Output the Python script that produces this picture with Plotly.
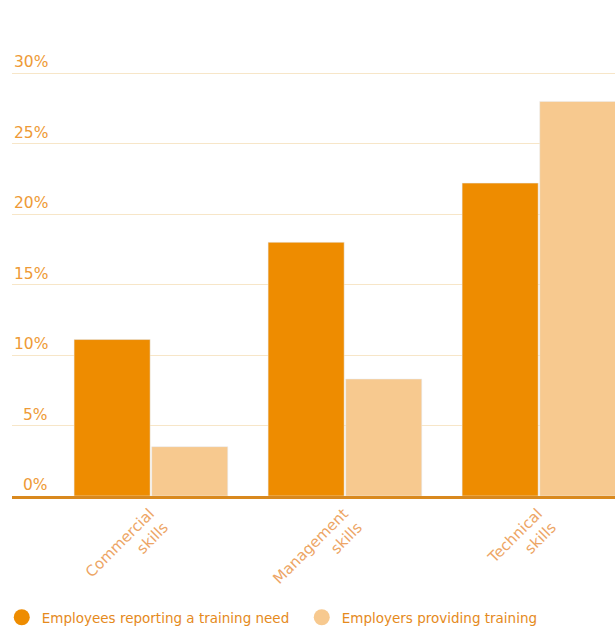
import plotly.graph_objects as go

# Skill categories and the two series (percent)
categories = ["Commercial<br>skills", "Management<br>skills", "Technical<br>skills"]
training_need = [11.1, 18.0, 22.2]
training_provided = [3.5, 8.3, 28.0]
series_names = ["Employees reporting a training need", "Employers providing training"]
y_ticks = [0, 5, 10, 15, 20, 25, 30]
y_tick_text = [f"{v}%" for v in y_ticks]

DARK = "#EE8C00"
LIGHT = "#F7C98F"
TEXT = "#EE9A36"
FONT = "DejaVu Sans, Liberation Sans, Arial, sans-serif"

fig = go.Figure()
fig.add_trace(go.Bar(x=categories, y=training_need, marker_color=DARK,
                     name=series_names[0], showlegend=False))
fig.add_trace(go.Bar(x=categories, y=training_provided, marker_color=LIGHT,
                     name=series_names[1], showlegend=False))

# Circular legend markers
for name, col in zip(series_names, [DARK, LIGHT]):
    fig.add_trace(go.Scatter(x=[None], y=[None], mode="markers", name=name,
                             marker=dict(symbol="circle", size=16, color=col)))

# Right-aligned percentage labels sitting just above each gridline
for v, t in zip(y_ticks, y_tick_text):
    fig.add_annotation(x=0.063, xref="paper", y=v, yref="y", text=t,
                       showarrow=False, xanchor="right", yanchor="bottom",
                       yshift=0, font=dict(family=FONT, size=15.5, color=TEXT))

fig.update_layout(
    width=615, height=633,
    margin=dict(l=12, r=0, t=45, b=135),
    paper_bgcolor="white", plot_bgcolor="white",
    barmode="group", bargap=0.2, bargroupgap=0.02,
    font=dict(family=FONT, color=TEXT, size=13),
    showlegend=True,
    legend=dict(orientation="h", x=-0.017, xanchor="left", y=-0.27, yanchor="middle",
                font=dict(family=FONT, size=13.5, color="#E58A1C"), itemwidth=30,
                entrywidth=255, entrywidthmode="pixels", traceorder="normal"),
    xaxis=dict(range=[-0.716, 2.392], showgrid=False, showline=True,
               linecolor="#D9891E", linewidth=3, ticks="", tickangle=-45,
               ticklabelshift=-1, ticklabelstandoff=0,
               tickfont=dict(family=FONT, size=15, color="#EDA564")),
    yaxis=dict(range=[0, 32], tickvals=y_ticks, showticklabels=False,
               showgrid=True, gridcolor="#F7E6C8", gridwidth=1,
               zeroline=False, ticks=""),
)

fig.write_html("out.html")
